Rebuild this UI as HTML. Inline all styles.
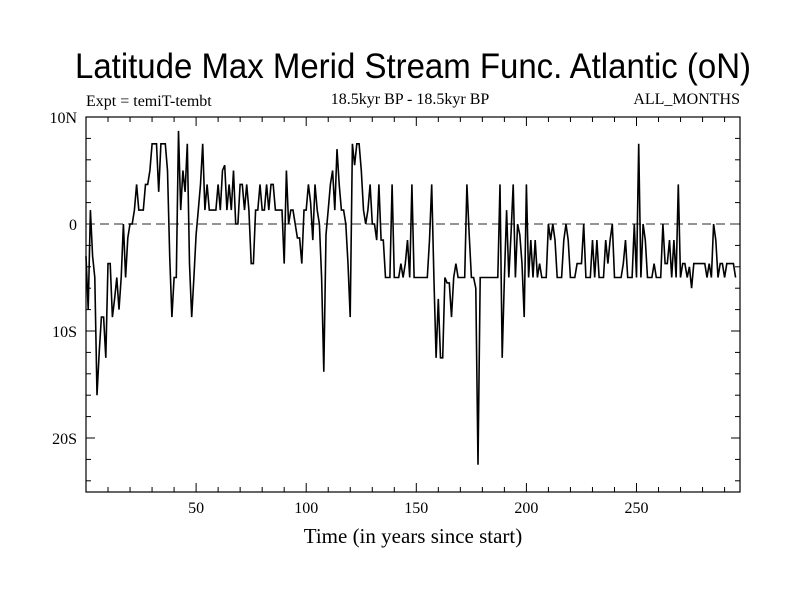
<!DOCTYPE html>
<html><head><meta charset="utf-8"><style>
body{margin:0;background:#fff}
svg{display:block;font-family:"Liberation Serif",serif}
</style></head><body>
<svg id="chart" width="800" height="600">
<text x="413" y="78" font-size="35" text-anchor="middle" font-family="Liberation Sans, sans-serif" textLength="676" lengthAdjust="spacingAndGlyphs">Latitude Max Merid Stream Func. Atlantic (oN)</text>
<text x="86" y="106" font-size="16">Expt = temiT-tembt</text>
<text x="410" y="104" font-size="16" text-anchor="middle">18.5kyr BP - 18.5kyr BP</text>
<text x="740" y="104" font-size="16" text-anchor="end">ALL_MONTHS</text>
<text x="413" y="543" font-size="21" text-anchor="middle">Time (in years since start)</text>
<g id="ticks"></g>
<line x1="86" x2="740" y1="224" y2="224" stroke="#555" stroke-dasharray="9,5" stroke-width="1.2"/>
<path id="series" fill="none" stroke="#000" stroke-width="1.6"/>
<rect x="86" y="117" width="654" height="375" fill="none" stroke="#000" stroke-width="1.2"/>
</svg>
<script>
const values=[-3,-8,1.3,-3,-5,-16,-12,-8.7,-8.7,-12.5,
-3.7,-3.7,-8.7,-7,-5,-8,-5,0,-5,-1.3,
0,0,1.3,3.7,1.3,1.3,1.3,3.7,3.7,5,
7.5,7.5,7.5,3,7.5,7.5,7.5,5,-3,-8.7,
-5,-5,8.7,1.3,5,3,7.5,-3.7,-8.7,-5,
-1,1.3,3.7,7.5,1.3,3.7,1.3,1.3,1.3,1.3,
3.7,1.3,5,5.5,1.3,3.7,1.3,5,0,0,
3.7,3.7,1.3,3.7,1.3,-3.7,-3.7,1.3,1.3,3.7,
1.3,1.3,3.7,1.3,3.7,3.7,1.3,1.3,1.3,1.3,
-3.7,5,0,1.3,1.3,0,-1.3,-1.3,-3.7,1.3,
1.3,3.7,2,-1.5,3.7,1.3,0,-5,-13.8,-1,
1.3,3.7,5,1.3,7,3.7,1.3,1.3,0,-3.7,
-8.7,7.5,5.5,7.5,7.5,5,1.3,0,1.3,3.7,
0,0,-1.5,3.7,-1.5,-1.5,-5,-5,-5,3.7,
-5,-5,-5,-3.7,-5,-3.7,-1.5,-5,3.7,-5,
-5,-5,-5,-5,-5,-5,-1.5,3.7,-5,-12.5,
-7,-12.5,-12.5,-5,-5.5,-5.5,-8.7,-5,-3.7,-5,
-5,-5,-5,3.7,-1,-5,-5,-6,-22.5,-5,
-5,-5,-5,-5,-5,-5,-5,-5,3.7,-12.5,
-5,1.3,-5,-1,3.7,-5,0,-1,-3.7,-8.7,
3.7,-5,-1.5,-5,-1.5,-5,-3.7,-5,-5,-5,
0,-1.5,0,-1.5,-5,-5,-5,-1.5,0,-1.5,
-5,-5,-5,-3.7,-3.7,-3.7,0,-5,-5,-5,
-1.5,-5,-1.5,-5,-5,-5,-1.5,-3.7,-1.5,0,
-5,-5,-5,-5,-3.7,-1.5,-5,-5,-5,0,
-5,7.5,-5,0,-1.5,-5,-5,-5,-3.7,-5,
-5,-5,0,-3.7,-3.7,-1.5,-5,-1.5,-5,3.7,
-5,-3.7,-3.7,-5,-4,-6,-3.7,-3.7,-3.7,-3.7,
-3.7,-3.7,-5,-3.7,-5,0,-1.5,-5,-3.7,-3.7,
-5,-3.7,-3.7,-3.7,-3.7,-5];
const xTicks=[50,100,150,200,250];
const xTickLabels=["50","100","150","200","250"];
const yTicks=[10,0,-10,-20];
const yTickLabels=["10N","0","10S","20S"];
const X=t=>86+t*(654/297);
const Y=v=>224-v*10.7;
const NS="http://www.w3.org/2000/svg";
const svg=document.getElementById('chart');
const g=document.getElementById('ticks');
function ln(x1,y1,x2,y2){const l=document.createElementNS(NS,'line');l.setAttribute('x1',x1);l.setAttribute('y1',y1);l.setAttribute('x2',x2);l.setAttribute('y2',y2);l.setAttribute('stroke','#000');


g.appendChild(l);}
function tx(x,y,s,anchor,name){const t=document.createElementNS(NS,'text');t.setAttribute('x',x);t.setAttribute('y',y);t.setAttribute('font-size','16');t.setAttribute('text-anchor',anchor);t.textContent=s;


svg.appendChild(t);}
for(let t=10;t<297;t+=10){const big=t%50===0;const L=big?9:5;ln(X(t),492,X(t),492-L);ln(X(t),117,X(t),117+L);}
for(let v=-24;v<=10;v+=2){const big=v%10===0;const L=big?9:5;ln(86,Y(v),86+L,Y(v));ln(740,Y(v),740-L,Y(v));}
xTicks.forEach((t,i)=>tx(X(t),513,xTickLabels[i],'middle','x-tick-label'));
yTicks.forEach((v,i)=>tx(77,Y(v)+6,yTickLabels[i],'end','y-tick-label'));
document.getElementById('series').setAttribute('d',values.map((v,i)=>(i?'L':'M')+X(i).toFixed(1)+','+Y(v).toFixed(1)).join(''));
</script>
</body></html>
